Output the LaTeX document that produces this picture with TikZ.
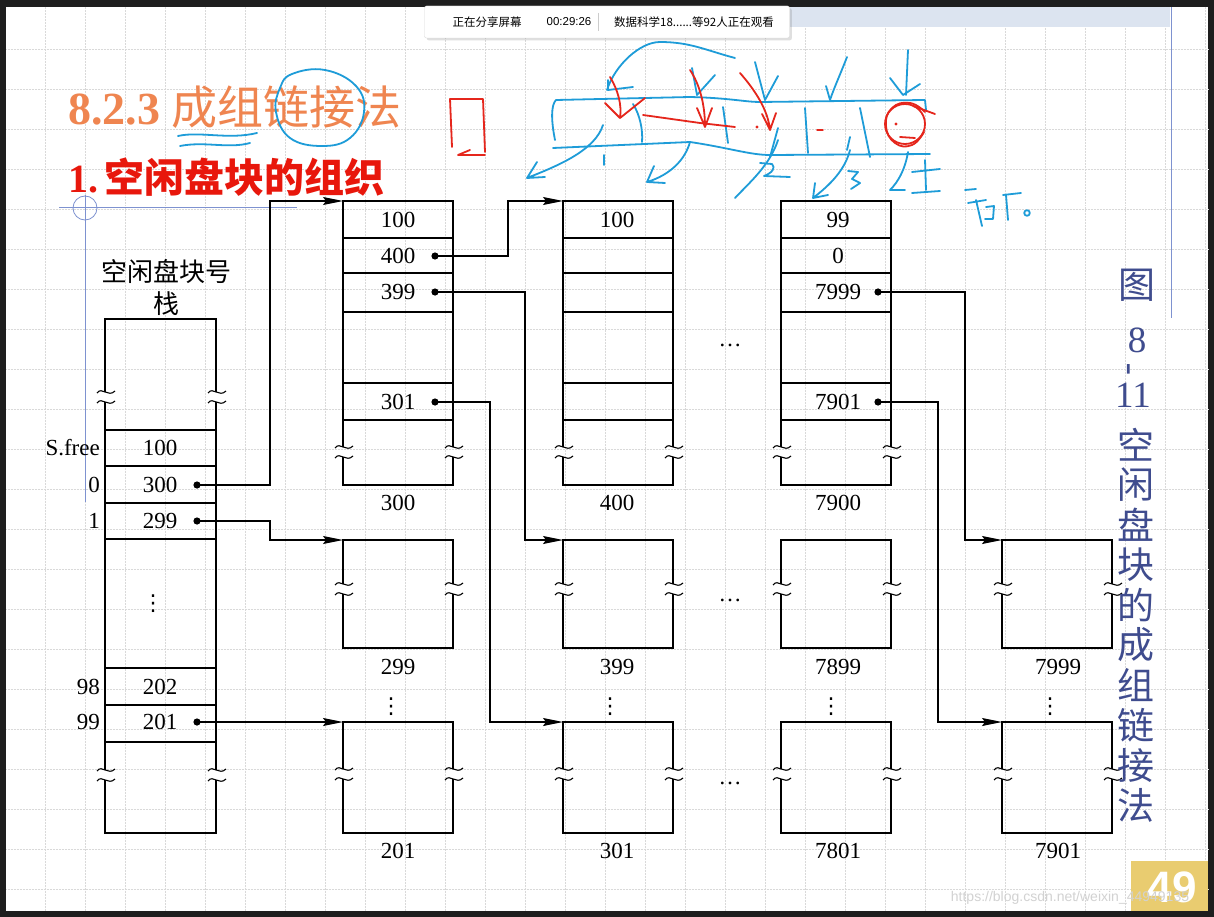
\documentclass[tikz,border=0pt]{standalone}
\usepackage{fontspec}
\setmainfont{Liberation Serif}
\newfontfamily\cjk{Noto Sans CJK SC}
\newfontfamily\sansf{Liberation Sans}
\newfontfamily\symf{DejaVu Sans}
\usetikzlibrary{arrows.meta,shadows}
\definecolor{titleorange}{HTML}{EF8550}
\definecolor{titlered}{HTML}{E8170C}
\definecolor{capblue}{HTML}{3F4C8E}
\definecolor{penblue}{HTML}{1E9CD8}
\definecolor{penred}{HTML}{E5261C}
\definecolor{badge}{HTML}{E9CC70}
\definecolor{frame}{HTML}{1E1E1E}
\definecolor{hatch}{HTML}{DCE4F0}
\definecolor{guide}{HTML}{7E92D0}
\tikzset{
  gridln/.style={gray!30,densely dotted,line width=0.5pt},
  blk/.style={line width=1.4pt},
  brk/.style={line width=1.1pt},
  link/.style={line width=1.3pt,-{Stealth[length=20pt,width=8pt,inset=3pt]}},
  num/.style={font=\fontsize{23}{23}\selectfont,inner sep=0pt},
  vdt/.style={font=\symf\fontsize{22}{22}\selectfont,inner sep=0pt},
  captxt/.style={font=\cjk\fontsize{37}{37}\selectfont,text=capblue,inner sep=0pt},
  capdig/.style={font=\fontsize{37}{37}\selectfont,text=capblue,inner sep=0pt},
  pen/.style={penblue,line width=1.8pt,line cap=round,line join=round},
  redpen/.style={penred,line width=1.8pt,line cap=round,line join=round},
}
% break mark on a vertical side
\newcommand{\brkmark}[2]{%
  \begin{scope}[shift={(#1,#2)}]
    \draw[brk] (-8,-4) .. controls (-3,-11) and (3,1) .. (10,-6);
    \draw[brk] (-8,6) .. controls (-3,-1) and (3,11) .. (10,4);
  \end{scope}}
\begin{document}
\begin{tikzpicture}[x=1pt,y=-1pt]
% slide area, frame and grid
\fill[frame] (0,0) rectangle (1214,917);
\fill[white] (6,7) rectangle (1208,911);
\useasboundingbox (0,0) rectangle (1214,917);
\foreach \gx in {45,85,...,1205} \draw[gridln] (\gx,7) -- (\gx,911);
\foreach \gy in {49,89,...,889} \draw[gridln] (6,\gy) -- (1208,\gy);
\fill[hatch] (790,7) rectangle (1170,27);
\draw[guide,line width=0.8pt] (1171,7) -- (1171,318);
\draw[guide,line width=0.8pt] (59,207) -- (297,207) (85,195) -- (85,502);
\draw[guide,line width=0.8pt] (85,208) circle (12pt);

% share bar
\node[draw=gray!30,fill=white,rounded corners=2pt,drop shadow={opacity=0.25},
  minimum width=365pt,minimum height=32pt] (bar) at (607,22) {};
\node[font=\cjk\fontsize{11.5}{11.5}\selectfont] (share) at (487,22) {正在分享屏幕};
\node[font=\sansf\fontsize{11.5}{11.5}\selectfont] (clock) at (569,22) {00:29:26};
\draw[gray!40] (598,13) -- (598,31);
\node[font=\cjk\fontsize{11.5}{11.5}\selectfont] (watch) at (694,22) {数据科学18......等92人正在观看};

% titles
\node[anchor=base west,inner sep=0pt,text=titleorange] (title) at (68,125)
  {\fontsize{46}{46}\selectfont\textbf{8.2.3} {\cjk 成组链接法}};
\node[anchor=base west,inner sep=0pt,text=titlered] (sub) at (68,193)
  {\fontsize{40}{40}\selectfont\textbf{1.}\,{\cjk\bfseries 空闲盘块的组织}};

% stack of free block numbers
\node[font=\cjk\fontsize{26}{26}\selectfont,inner sep=0pt] (sttl) at (166,272) {空闲盘块号};
\node[font=\cjk\fontsize{26}{26}\selectfont,inner sep=0pt] (sttl2) at (166,304) {栈};
\draw[blk] (105,392) -- (105,319) -- (216,319) -- (216,392);
\draw[blk] (105,402) -- (105,770) (216,402) -- (216,770);
\draw[blk] (105,780) -- (105,833) -- (216,833) -- (216,780);
\foreach \yy in {430,466,503,539,668,705,742} \draw[blk] (105,\yy) -- (216,\yy);
\brkmark{105}{397} \brkmark{216}{397}
\brkmark{105}{775} \brkmark{216}{775}
\node[num] (sfree) at (160,448) {100};
\node[num] (s0) at (160,485) {300};
\node[num] (s1) at (160,521) {299};
\node[vdt] (sdots) at (153,604) {⋮};
\node[num] (s98) at (160,687) {202};
\node[num] (s99) at (160,722) {201};
\node[num,anchor=east] (ifree) at (100,448) {S.free};
\node[num,anchor=east] (i0) at (100,485) {0};
\node[num,anchor=east] (i1) at (100,521) {1};
\node[num,anchor=east] (i98) at (100,687) {98};
\node[num,anchor=east] (i99) at (100,722) {99};

% leading blocks of each group
\foreach \L in {343,563,781}{
  \draw[blk] (\L,447) -- (\L,201) -- (\L+110,201) -- (\L+110,447);
  \draw[blk] (\L,457) -- (\L,485) -- (\L+110,485) -- (\L+110,457);
  \foreach \yy in {238,273,312,383,420} \draw[blk] (\L,\yy) -- (\L+110,\yy);
  \brkmark{\L}{452} \brkmark{\L+110}{452}
}
\node[num] (g100) at (398,220) {100};
\node[num] (g400) at (398,256) {400};
\node[num] (g399) at (398,292) {399};
\node[num] (g301) at (398,402) {301};
\node[num] (h100) at (617,220) {100};
\node[num] (k99) at (838,220) {99};
\node[num] (k0) at (838,256) {0};
\node[num] (k7999) at (838,292) {7999};
\node[num] (k7901) at (838,402) {7901};
\node[num] (l300) at (398,503) {300};
\node[num] (l400) at (617,503) {400};
\node[num] (l7900) at (838,503) {7900};

% other blocks
\foreach \L in {343,563,781,1002}{
  \draw[blk] (\L,584) -- (\L,540) -- (\L+110,540) -- (\L+110,584);
  \draw[blk] (\L,594) -- (\L,648) -- (\L+110,648) -- (\L+110,594);
  \brkmark{\L}{589} \brkmark{\L+110}{589}
  \draw[blk] (\L,769) -- (\L,722) -- (\L+110,722) -- (\L+110,769);
  \draw[blk] (\L,779) -- (\L,833) -- (\L+110,833) -- (\L+110,779);
  \brkmark{\L}{774} \brkmark{\L+110}{774}
}
\node[num] (l299) at (398,667) {299};
\node[num] (l399) at (617,667) {399};
\node[num] (l7899) at (838,667) {7899};
\node[num] (l7999) at (1058,667) {7999};
\node[num] (l201) at (398,851) {201};
\node[num] (l301) at (617,851) {301};
\node[num] (l7801) at (838,851) {7801};
\node[num] (l7901) at (1058,851) {7901};
\node[vdt] (v1) at (391,707) {⋮};
\node[vdt] (v2) at (610,707) {⋮};
\node[vdt] (v3) at (831,707) {⋮};
\node[vdt] (v4) at (1050,707) {⋮};
\node[num] (m1) at (730,345) {\ldots};
\node[num] (m2) at (730,600) {\ldots};
\node[num] (m3) at (730,783) {\ldots};

% pointers
\coordinate (b300) at (343,201);
\coordinate (b400) at (563,201);
\coordinate (b299) at (343,540);
\coordinate (b399) at (563,540);
\coordinate (b7999) at (1002,540);
\coordinate (b201) at (343,722);
\coordinate (b301) at (563,722);
\coordinate (b7901) at (1002,722);
\coordinate (p0) at (197,485);
\coordinate (p1) at (197,521);
\coordinate (p99) at (197,722);
\coordinate (q400) at (435,256);
\coordinate (q399) at (435,292);
\coordinate (q301) at (435,402);
\coordinate (r7999) at (878,292);
\coordinate (r7901) at (878,402);
\foreach \pt in {p0,p1,p99,q400,q399,q301,r7999,r7901} \fill (\pt) circle (3.6pt);
\draw[link] (p0) -- ++(73,0) |- (b300);
\draw[link] (p1) -- ++(73,0) |- (b299);
\draw[link] (p99) -- (b201);
\draw[link] (q400) -- ++(73,0) |- (b400);
\draw[link] (q399) -- ++(90,0) |- (b399);
\draw[link] (q301) -- ++(55,0) |- (b301);
\draw[link] (r7999) -- ++(87,0) |- (b7999);
\draw[link] (r7901) -- ++(60,0) |- (b7901);

% caption, set vertically
\node[captxt] (f1) at (1137,285) {图};
\node[capdig] (f2) at (1137,340) {8};
\node[capdig,rotate=90] (f3) at (1132,369) {-};
\node[capdig] (f4) at (1133,395) {11};
\foreach \ch [count=\i] in {空,闲,盘,块,的,成,组,链,接,法}
  \node[captxt] (fc\i) at (1136,405+40*\i) {\ch};

% page number and watermark
\fill[badge] (1131,861) rectangle (1208,911);
\node[font=\sansf\bfseries\fontsize{44}{44}\selectfont,text=white,inner sep=0pt] (page) at (1172,887) {49};
\node[font=\sansf\fontsize{14}{14}\selectfont,text=gray!35,inner sep=0pt] (wm) at (1070,898) {https://blog.csdn.net/weixin\_44949135};

% hand-written notes (blue)
\draw[pen] plot[smooth cycle,tension=0.7] coordinates {(292,74) (325,70) (356,86) (364,112) (350,138) (322,146) (290,138) (276,112) (280,88)};
\draw[pen] (178,136) .. controls (200,131) and (228,140) .. (257,133);
\draw[pen] (180,146) .. controls (205,141) and (228,149) .. (250,143);
\draw[pen] (555,140) .. controls (551,120) and (551,105) .. (556,100) -- (690,97) .. controls (730,98) and (745,102) .. (760,102) -- (925,100) -- (926,110);
\draw[pen] (553,148) -- (690,142) .. controls (730,148) and (750,155) .. (770,155) -- (930,154);
\draw[pen] (633,104) .. controls (640,115) and (643,130) .. (642,142);
\draw[pen] (723,107) -- (728,143) (778,128) -- (770,157) (805,108) -- (808,153) (860,108) -- (870,157) (850,137) -- (847,150);
\draw[pen] (607,90) .. controls (615,65) and (640,42) .. (660,42) .. controls (690,42) and (705,50) .. (735,58);
\draw[pen] (608,80) -- (608,90) -- (633,87);
\draw[pen] (692,68) -- (697,95) -- (715,75);
\draw[pen] (755,62) -- (765,100) -- (778,76);
\draw[pen] (847,57) .. controls (840,75) and (834,88) .. (830,100) -- (826,86);
\draw[pen] (908,50) -- (906,95) (890,78) -- (903,95) -- (920,84);
\draw[pen] (603,125) .. controls (595,150) and (560,165) .. (527,178) (537,162) -- (527,178) -- (545,177);
\draw[pen] (604,155) -- (604,165);
\draw[pen] (690,142) .. controls (685,160) and (670,175) .. (647,182) (654,166) -- (647,182) -- (665,183);
\draw[pen] (778,140) .. controls (770,165) and (750,182) .. (735,198);
\draw[pen] (760,163) -- (772,164) .. controls (776,168) and (772,173) .. (764,176) -- (790,177);
\draw[pen] (850,150) .. controls (845,170) and (830,185) .. (813,198) (815,183) -- (813,198) -- (828,195);
\draw[pen] (848,171) -- (858,172) -- (852,179) -- (860,183) -- (851,189);
\draw[pen] (908,152) .. controls (905,170) and (898,182) .. (890,190) -- (905,190);
\draw[pen] (912,172) -- (940,169) (925,160) -- (926,190) (912,193) -- (940,191);
\draw[pen] (965,190) -- (976,189) (968,203) -- (986,200) (976,200) -- (982,226) (986,207) -- (994,206) -- (993,219) -- (985,219) (1003,195) -- (1021,193) (1006,195) -- (1008,220);
\draw[pen] (1027,213) circle (2.8pt);
% hand-written notes (red)
\draw[redpen] (452,147) -- (450,99) -- (483,99) -- (485,152);
\draw[redpen] (458,155) -- (470,150) (458,155) -- (485,155);
\draw[redpen] (610,77) .. controls (618,90) and (622,105) .. (620,118) (605,103) -- (620,118) -- (645,98);
\draw[redpen] (643,115) -- (700,123) -- (735,127);
\draw[redpen] (690,70) .. controls (700,85) and (705,105) .. (705,127) (697,108) -- (705,127) -- (712,108);
\draw[redpen] (740,73) .. controls (755,90) and (768,110) .. (770,130) (762,114) -- (770,130) -- (776,113);
\draw[redpen] (905,124) circle (20pt);
\draw[redpen] plot[smooth,tension=0.8] coordinates {(925,112) (910,103) (892,108) (886,126) (895,143) (912,145) (924,132)};
\draw[redpen] (913,106) -- (935,114) (900,137) -- (915,138);
\fill[penred] (757,127) circle (1.6pt) (896,124) circle (1.6pt);
\draw[redpen,line width=1.4pt] (817,130) -- (823,130);
\end{tikzpicture}
\end{document}
